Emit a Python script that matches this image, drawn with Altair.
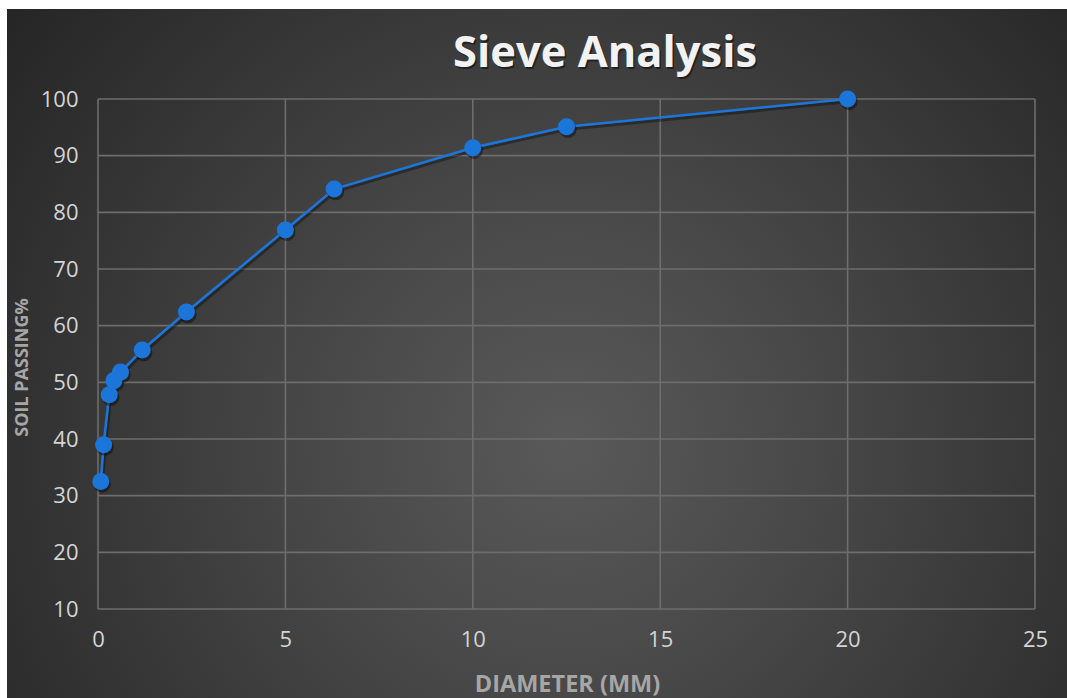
import altair as alt
import pandas as pd

# Sieve analysis results: sieve opening (mm) vs. percent of soil passing
diameter_mm = [0.075, 0.15, 0.3, 0.425, 0.6, 1.18, 2.36, 5.0, 6.3, 10.0, 12.5, 20.0]
passing_pct = [32.5, 39.0, 47.8, 50.3, 51.8, 55.7, 62.4, 76.9, 84.1, 91.4, 95.1, 100.0]

# Gridline positions
x_grid = [0, 5, 10, 15, 20, 25]
y_grid = [10, 20, 30, 40, 50, 60, 70, 80, 90, 100]

W, H = 937, 510
FONT = "Open Sans"
BLUE = "#1c76da"
GRID = "#6d6d6d"

df = pd.DataFrame({"diameter": diameter_mm, "passing": passing_pct})
x_scale = alt.Scale(domain=[0, 25], nice=False, zero=False)
y_scale = alt.Scale(domain=[10, 100], nice=False, zero=False)

x_axis = alt.Axis(
    values=x_grid, grid=False, domain=False, ticks=False, tickSize=0,
    labelFontSize=22, labelColor="#d4d4d4", labelFont=FONT, labelPadding=20,
    labelFlush=False,
    title="DIAMETER (MM)", titleFont=FONT, titleFontSize=23.5, titleFontWeight="bold",
    titleColor="#a6a6a6", titleX=469, titleY=75, titleBaseline="middle",
    titleAlign="center", zindex=1,
)
y_axis = alt.Axis(
    values=y_grid, grid=False, domain=False, ticks=False, tickSize=0,
    labelFontSize=22, labelColor="#d4d4d4", labelFont=FONT, labelPadding=20,
    labelFlush=False,
    title="SOIL PASSING%", titleFont=FONT, titleFontSize=18, titleFontWeight="bold",
    titleColor="#a6a6a6", titleX=-76, titleY=268, titleAngle=270,
    titleBaseline="middle", titleAlign="center", zindex=1,
)

# Dark radial-gradient backdrop behind the whole chart
backdrop = alt.Chart(pd.DataFrame({"k": [0]})).mark_rect(
    fill=alt.Gradient(
        gradient="radial",
        stops=[
            alt.GradientStop(color="#595959", offset=0),
            alt.GradientStop(color="#4a4a4a", offset=0.3),
            alt.GradientStop(color="#222222", offset=1),
        ],
        x1=0.5, y1=0.388, r1=0,
        x2=0.5, y2=0.388, r2=0.67,
    ),
).encode(
    x=alt.value(-91), x2=alt.value(1029),
    y=alt.value(-90), y2=alt.value(1030),
)

vgrid = alt.Chart(pd.DataFrame({"g": x_grid})).mark_rule(
    color=GRID, strokeWidth=1.6
).encode(x=alt.X("g:Q", scale=x_scale, axis=x_axis))

hgrid = alt.Chart(pd.DataFrame({"g": y_grid})).mark_rule(
    color=GRID, strokeWidth=1.6
).encode(y=alt.Y("g:Q", scale=y_scale, axis=y_axis))

base = alt.Chart(df)
x_enc = alt.X("diameter:Q", scale=x_scale, axis=x_axis)
y_enc = alt.Y("passing:Q", scale=y_scale, axis=y_axis)

line_shadow = base.mark_line(
    color="black", opacity=0.35, strokeWidth=3, xOffset=1.5, yOffset=2.5
).encode(x=x_enc, y=y_enc)
line = base.mark_line(color=BLUE, strokeWidth=2.6).encode(x=x_enc, y=y_enc)
dot_shadow = base.mark_circle(
    color="black", opacity=0.4, size=300, xOffset=1.5, yOffset=2.5
).encode(x=x_enc, y=y_enc)
dots = base.mark_circle(color=BLUE, opacity=1, size=290).encode(x=x_enc, y=y_enc)

# Chart heading drawn as text so it sits at a fixed spot above the plot
heading_df = pd.DataFrame({"t": ["Sieve Analysis"]})
heading_shadow = alt.Chart(heading_df).mark_text(
    font=FONT, fontSize=43.5, fontWeight="bold", color="black", opacity=0.45,
    align="center", baseline="middle", dx=1.5, dy=2,
).encode(text="t:N", x=alt.value(507), y=alt.value(-45))
heading = alt.Chart(heading_df).mark_text(
    font=FONT, fontSize=43.5, fontWeight="bold", color="#f2f2f2",
    align="center", baseline="middle",
).encode(text="t:N", x=alt.value(507), y=alt.value(-45))

chart = alt.layer(
    backdrop, vgrid, hgrid, line_shadow, line, dot_shadow, dots,
    heading_shadow, heading,
).properties(
    width=W,
    height=H,
    background="white",
    padding={"left": 98, "top": 99, "right": 32, "bottom": 89},
    autosize=alt.AutoSizeParams(type="none"),
).configure_view(stroke=None)

chart.save("out.html", embed_options={"renderer": "svg", "actions": False})
